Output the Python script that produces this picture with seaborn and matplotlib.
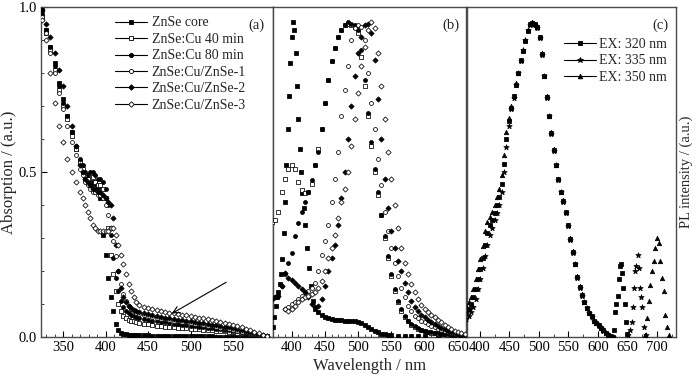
import numpy as np
import pandas as pd
import matplotlib
matplotlib.use("Agg")
import matplotlib.pyplot as plt
from matplotlib.lines import Line2D
from matplotlib.ticker import MultipleLocator
import seaborn as sns

# ---------------------------------------------------------------------------
# (a) absorption spectra
# ---------------------------------------------------------------------------
WL_A = np.concatenate([np.arange(325, 371, 5), np.arange(373, 440, 3), np.arange(445, 591, 5)])

ABS_CORE = [0.99, 0.93, 0.88, 0.83, 0.77, 0.72, 0.67, 0.62, 0.57, 0.53,
            0.50, 0.48, 0.47, 0.46, 0.47, 0.465, 0.455, 0.42, 0.31, 0.25, 0.18, 0.12, 0.08,
            0.04, 0.02, 0.012, 0.009, 0.008, 0.007, 0.006, 0.006, 0.005, 0.005,
            0.005, 0.005, 0.004, 0.004, 0.004, 0.004, 0.003, 0.003, 0.003, 0.003,
            0.003, 0.002, 0.002, 0.002, 0.002, 0.002, 0.002, 0.001, 0.001, 0.001,
            0.001, 0.001, 0.001, 0.001, 0.0, 0.0, 0.0, 0.0, 0.0, 0.0]
ABS_CU40 = [0.97, 0.92, 0.87, 0.81, 0.75, 0.70, 0.66, 0.61, 0.57, 0.53,
            0.51, 0.49, 0.48, 0.49, 0.485, 0.47, 0.46, 0.46, 0.45, 0.42, 0.33, 0.25, 0.19,
            0.14, 0.10, 0.08, 0.065, 0.058, 0.053, 0.05, 0.047, 0.045, 0.043,
            0.04, 0.038, 0.036, 0.034, 0.032, 0.031, 0.03, 0.029, 0.028, 0.027,
            0.026, 0.025, 0.024, 0.023, 0.022, 0.021, 0.02, 0.019, 0.018, 0.017,
            0.016, 0.015, 0.013, 0.012, 0.011, 0.01, 0.008, 0.006, 0.004, 0.002]
ABS_CU80 = [0.98, 0.93, 0.88, 0.82, 0.76, 0.71, 0.67, 0.62, 0.58, 0.54,
            0.52, 0.50, 0.49, 0.50, 0.50, 0.49, 0.48, 0.48, 0.47, 0.45, 0.40, 0.31, 0.24,
            0.18, 0.14, 0.11, 0.09, 0.08, 0.072, 0.067, 0.063, 0.06, 0.058,
            0.055, 0.052, 0.05, 0.048, 0.046, 0.044, 0.042, 0.04, 0.039, 0.037,
            0.036, 0.034, 0.033, 0.031, 0.03, 0.028, 0.027, 0.025, 0.024, 0.022,
            0.021, 0.019, 0.017, 0.015, 0.013, 0.011, 0.009, 0.007, 0.004, 0.002]
ABS_SHELL1 = [0.97, 0.92, 0.86, 0.80, 0.74, 0.69, 0.64, 0.59, 0.55, 0.51,
              0.49, 0.47, 0.46, 0.45, 0.44, 0.44, 0.43, 0.43, 0.42, 0.40, 0.37, 0.33, 0.29,
              0.245, 0.20, 0.16, 0.13, 0.11, 0.095, 0.085, 0.078, 0.073, 0.07,
              0.066, 0.063, 0.061, 0.058, 0.056, 0.054, 0.052, 0.05, 0.048, 0.046,
              0.044, 0.042, 0.04, 0.038, 0.036, 0.034, 0.032, 0.03, 0.028, 0.026,
              0.024, 0.021, 0.019, 0.016, 0.014, 0.011, 0.008, 0.006, 0.003, 0.001]
ABS_SHELL2 = [0.99, 0.95, 0.91, 0.86, 0.81, 0.76, 0.70, 0.64, 0.58, 0.52,
              0.50, 0.48, 0.47, 0.46, 0.45, 0.45, 0.44, 0.44, 0.43, 0.42, 0.41, 0.40, 0.36,
              0.28, 0.20, 0.15, 0.12, 0.105, 0.095, 0.088, 0.083, 0.08, 0.077,
              0.074, 0.07, 0.067, 0.064, 0.062, 0.059, 0.057, 0.055, 0.053, 0.051,
              0.049, 0.047, 0.045, 0.043, 0.041, 0.039, 0.037, 0.035, 0.033, 0.031,
              0.029, 0.026, 0.023, 0.02, 0.017, 0.014, 0.011, 0.008, 0.005, 0.002]
ABS_SHELL3 = [0.96, 0.90, 0.80, 0.71, 0.64, 0.59, 0.54, 0.50, 0.47, 0.44,
              0.42, 0.40, 0.38, 0.36, 0.34, 0.33, 0.32, 0.32, 0.32, 0.32, 0.32, 0.33, 0.33,
              0.31, 0.28, 0.25, 0.22, 0.19, 0.16, 0.14, 0.12, 0.107, 0.098,
              0.092, 0.088, 0.085, 0.082, 0.079, 0.076, 0.074, 0.072, 0.07, 0.068,
              0.066, 0.064, 0.061, 0.059, 0.057, 0.054, 0.051, 0.048, 0.045, 0.042,
              0.039, 0.036, 0.033, 0.029, 0.025, 0.02, 0.015, 0.011, 0.006, 0.003]

# ---------------------------------------------------------------------------
# (b) emission spectra
# ---------------------------------------------------------------------------
WL_B = np.arange(370, 661, 5)
WL_B_CORE = [372, 374, 376, 378, 380, 382, 384, 386, 388, 390, 392, 394, 396, 398, 400,
             402, 404, 406, 408, 410, 412, 414, 416, 418, 420, 423, 426, 429, 432, 435,
             440, 445, 450, 455, 460, 465, 470, 475, 480, 485, 490, 495, 500, 505, 510,
             515, 520, 525, 530, 535, 540, 545, 550, 560, 570, 580, 590, 600, 620, 640, 660]
PL_CORE = [0.03, 0.06, 0.095, 0.12, 0.135, 0.16, 0.19, 0.235, 0.315, 0.41, 0.52, 0.63, 0.73, 0.83, 0.91,
           0.955, 0.93, 0.86, 0.76, 0.66, 0.57, 0.50, 0.435, 0.39, 0.34, 0.27, 0.21, 0.155, 0.11, 0.085,
           0.075, 0.068, 0.062, 0.058, 0.055, 0.053, 0.052, 0.051, 0.05, 0.05, 0.049, 0.048, 0.046, 0.043, 0.037,
           0.031, 0.025, 0.019, 0.014, 0.01, 0.008, 0.006, 0.005, 0.004, 0.003, 0.003, 0.002, 0.002, 0.001, 0.001, 0.0]
PL_CU40 = [0.35, 0.355, 0.38, 0.44, 0.48, 0.51, 0.52, 0.51, 0.47, 0.445, 0.435, 0.44, 0.465, 0.52, 0.57,
           0.63, 0.71, 0.78, 0.835, 0.875, 0.91, 0.93, 0.945, 0.95, 0.945, 0.94, 0.92, 0.85, 0.76, 0.67,
           0.58, 0.50, 0.43, 0.37, 0.30, 0.24, 0.185, 0.14, 0.105, 0.08, 0.06, 0.047, 0.037, 0.03, 0.024,
           0.02, 0.017, 0.015, 0.013, 0.011, 0.01, 0.009, 0.008, 0.007, 0.006, 0.005, 0.004, 0.003, 0.002]
PL_CU80 = [0.115, 0.12, 0.125, 0.155, 0.19, 0.225, 0.255, 0.305, 0.345, 0.38, 0.41, 0.44, 0.475, 0.52, 0.56,
           0.63, 0.71, 0.78, 0.835, 0.875, 0.91, 0.93, 0.945, 0.955, 0.95, 0.945, 0.93, 0.87, 0.78, 0.68,
           0.59, 0.51, 0.44, 0.37, 0.305, 0.245, 0.19, 0.145, 0.11, 0.085, 0.065, 0.05, 0.04, 0.032, 0.026,
           0.021, 0.018, 0.016, 0.014, 0.012, 0.011, 0.01, 0.009, 0.008, 0.007, 0.006, 0.005, 0.004, 0.003]
PL_SHELL1 = [np.nan, np.nan, np.nan, np.nan, 0.085, 0.09, 0.10, 0.105, 0.115, 0.125, 0.135, 0.14, 0.15, 0.165, 0.20,
             0.25, 0.29, 0.34, 0.41, 0.48, 0.56, 0.67, 0.75, 0.82, 0.90, 0.935, 0.945, 0.94, 0.90, 0.80,
             0.71, 0.63, 0.54, 0.46, 0.38, 0.32, 0.27, 0.225, 0.185, 0.15, 0.12, 0.095, 0.078, 0.065, 0.057,
             0.05, 0.044, 0.039, 0.034, 0.029, 0.025, 0.021, 0.018, 0.015, 0.012, 0.01, 0.008, 0.006, 0.005]
PL_SHELL2 = [0.115, 0.12, 0.125, 0.155, 0.195, 0.18, 0.172, 0.165, 0.155, 0.145, 0.135, 0.12, 0.10, 0.09, 0.095,
             0.115, 0.155, 0.20, 0.24, 0.28, 0.34, 0.42, 0.50, 0.60, 0.70, 0.79, 0.86, 0.91, 0.945, 0.95,
             0.92, 0.84, 0.72, 0.60, 0.48, 0.39, 0.32, 0.27, 0.23, 0.20, 0.165, 0.135, 0.11, 0.09, 0.078,
             0.068, 0.06, 0.052, 0.045, 0.039, 0.033, 0.028, 0.023, 0.019, 0.015, 0.012, 0.009, 0.007, 0.005]
PL_SHELL3 = [np.nan, np.nan, np.nan, np.nan, 0.085, 0.08, 0.085, 0.095, 0.105, 0.115, 0.12, 0.125, 0.13, 0.135, 0.15,
             0.17, 0.20, 0.24, 0.27, 0.31, 0.36, 0.41, 0.45, 0.50, 0.58, 0.66, 0.74, 0.82, 0.88, 0.93,
             0.955, 0.935, 0.86, 0.76, 0.66, 0.56, 0.48, 0.40, 0.33, 0.27, 0.225, 0.19, 0.16, 0.135, 0.115,
             0.097, 0.085, 0.075, 0.067, 0.06, 0.052, 0.044, 0.037, 0.03, 0.024, 0.019, 0.015, 0.011, 0.008]

# ---------------------------------------------------------------------------
# (c) emission at three excitation wavelengths
# ---------------------------------------------------------------------------
WL_C = np.arange(377, 626, 4)
EX320 = [0.075, 0.085, 0.10, 0.12, 0.145, 0.175, 0.205, 0.24, 0.28, 0.315, 0.34, 0.355, 0.375, 0.40, 0.425,
         0.465, 0.525, 0.60, 0.655, 0.695, 0.73, 0.765, 0.80, 0.838, 0.868, 0.898, 0.928, 0.948, 0.952, 0.948,
         0.938, 0.908, 0.858, 0.79, 0.728, 0.67, 0.618, 0.568, 0.52, 0.478, 0.44, 0.412, 0.378, 0.338, 0.298,
         0.258, 0.22, 0.183, 0.152, 0.128, 0.105, 0.088, 0.074, 0.063, 0.05, 0.042, 0.035, 0.027, 0.02, 0.012,
         0.007, 0.003, 0.001]
EX335 = [0.055, 0.065, 0.075, 0.09, 0.115, 0.145, 0.175, 0.21, 0.245, 0.28, 0.31, 0.33, 0.355, 0.375, 0.40,
         0.44, 0.50, 0.575, 0.64, 0.69, 0.725, 0.765, 0.80, 0.835, 0.87, 0.90, 0.93, 0.945, 0.95, 0.945,
         0.935, 0.905, 0.855, 0.79, 0.725, 0.67, 0.615, 0.565, 0.52, 0.475, 0.44, 0.41, 0.375, 0.335, 0.295,
         0.255, 0.22, 0.18, 0.15, 0.125, 0.105, 0.088, 0.074, 0.062, 0.05, 0.042, 0.034, 0.026, 0.019, 0.012,
         0.007, 0.003, 0.001]
EX350 = [0.095, 0.105, 0.12, 0.145, 0.175, 0.205, 0.235, 0.275, 0.32, 0.35, 0.365, 0.38, 0.40, 0.425, 0.45,
         0.49, 0.55, 0.62, 0.665, 0.70, 0.73, 0.77, 0.80, 0.84, 0.87, 0.90, 0.93, 0.95, 0.955, 0.95,
         0.94, 0.91, 0.86, 0.79, 0.73, 0.67, 0.62, 0.57, 0.52, 0.48, 0.44, 0.415, 0.38, 0.34, 0.30,
         0.26, 0.22, 0.185, 0.155, 0.13, 0.105, 0.088, 0.075, 0.065, 0.05, 0.043, 0.036, 0.028, 0.02, 0.013,
         0.007, 0.003, 0.001]
# second-order peaks
EX320_2ND_WL = [627, 629, 631, 633, 635, 637, 639, 641, 643, 645, 647, 649]
EX320_2ND = [0.02, 0.075, 0.10, 0.125, 0.175, 0.215, 0.22, 0.195, 0.15, 0.10, 0.045, 0.01]
EX335_2ND_WL = [650, 654, 657, 659, 661, 663, 665, 667, 669, 671, 673, 675, 678, 681]
EX335_2ND = [0.005, 0.02, 0.045, 0.09, 0.15, 0.20, 0.215, 0.25, 0.21, 0.15, 0.12, 0.09, 0.03, 0.005]
EX350_2ND_WL = [680, 683, 686, 688, 691, 694, 697, 700, 703, 705, 708, 711, 714, 717, 720]
EX350_2ND = [0.005, 0.057, 0.11, 0.158, 0.20, 0.23, 0.27, 0.30, 0.285, 0.23, 0.18, 0.14, 0.067, 0.03, 0.005]

SAMPLE_LABELS = ["ZnSe core", "ZnSe:Cu 40 min", "ZnSe:Cu 80 min",
                 "ZnSe:Cu/ZnSe-1", "ZnSe:Cu/ZnSe-2", "ZnSe:Cu/ZnSe-3"]
EX_LABELS = ["EX: 320 nm", "EX: 335 nm", "EX: 350 nm"]

# marker, filled, size (points^2) for each sample
SAMPLE_STYLE = [("s", True, 7), ("s", False, 7), ("o", True, 8),
                ("o", False, 8), ("D", True, 7), ("D", False, 7)]
EX_STYLE = [("s", True, 7), ("*", True, 16), ("^", True, 10)]

FRAME = "#4a4a4a"


def dots(ax, x, y, marker, filled, size):
    df = pd.DataFrame({"x": np.asarray(x, float), "y": np.asarray(y, float)}).dropna()
    sns.scatterplot(data=df, x="x", y="y", ax=ax, marker=marker, s=size,
                    color="black", facecolor="black" if filled else "white",
                    edgecolor="black", linewidth=0.55, legend=False, zorder=3)


def legend_handles(styles, labels):
    handles = []
    for (m, filled, s), lab in zip(styles, labels):
        handles.append(Line2D([], [], color="black", lw=0.8, marker=m,
                              markersize=np.sqrt(s) * 1.05,
                              markerfacecolor="black" if filled else "white",
                              markeredgecolor="black", markeredgewidth=0.6, label=lab))
    return handles


def main():
    sns.set_theme(style="ticks")
    plt.rcParams["font.family"] = ["Liberation Serif", "DejaVu Serif"]
    plt.rcParams["font.size"] = 10.5

    W, H = 700, 377
    fig = plt.figure(figsize=(W / 100, H / 100), dpi=100)
    bottom, height = (H - 337) / H, 330 / H
    ax_a = fig.add_axes([41 / W, bottom, (273 - 41) / W, height])
    ax_b = fig.add_axes([273 / W, bottom, (466.5 - 273) / W, height])
    ax_c = fig.add_axes([466.5 / W, bottom, (675.5 - 466.5) / W, height])

    # (a)
    for vals, st in zip([ABS_CORE, ABS_CU40, ABS_CU80, ABS_SHELL1, ABS_SHELL2, ABS_SHELL3], SAMPLE_STYLE):
        dots(ax_a, WL_A, vals, *st)
    ax_a.annotate("", xy=(478, 0.071), xytext=(542, 0.166),
                  arrowprops=dict(arrowstyle="->", lw=0.8, color="black",
                                  shrinkA=0, shrinkB=0, mutation_scale=12))
    ax_a.legend(handles=legend_handles(SAMPLE_STYLE, SAMPLE_LABELS), loc="upper left",
                bbox_to_anchor=(0.27, 1.005), frameon=False, fontsize=10,
                handlelength=2.3, handletextpad=0.35, labelspacing=0.25, borderpad=0.3)
    ax_a.set_xlim(324, 597)
    ax_a.xaxis.set_major_locator(MultipleLocator(50))
    ax_a.xaxis.set_minor_locator(MultipleLocator(10))
    ax_a.set_ylabel("Absorption / (a.u.)", labelpad=1)
    ax_a.set_yticks([0.0, 0.5, 1.0])
    ax_a.set_yticklabels(["0.0", "0.5", "1.0"])
    ax_a.yaxis.set_minor_locator(MultipleLocator(0.1))

    # (b)
    dots(ax_b, WL_B_CORE, PL_CORE, *SAMPLE_STYLE[0])
    for vals, st in zip([PL_CU40, PL_CU80, PL_SHELL1, PL_SHELL2, PL_SHELL3], SAMPLE_STYLE[1:]):
        dots(ax_b, WL_B, vals, *st)
    ax_b.set_xlim(372, 663)
    ax_b.xaxis.set_major_locator(MultipleLocator(50))
    ax_b.xaxis.set_minor_locator(MultipleLocator(10))

    # (c)
    for main_vals, wl2, vals2, st in zip([EX320, EX335, EX350],
                                         [EX320_2ND_WL, EX335_2ND_WL, EX350_2ND_WL],
                                         [EX320_2ND, EX335_2ND, EX350_2ND], EX_STYLE):
        dots(ax_c, np.concatenate([WL_C, wl2]), list(main_vals) + list(vals2), *st)
    ax_c.legend(handles=legend_handles(EX_STYLE, EX_LABELS), loc="upper left",
                bbox_to_anchor=(0.415, 0.94), frameon=False, fontsize=10,
                handlelength=2.3, handletextpad=0.2, labelspacing=0.25, borderpad=0.3)
    ax_c.set_xlim(377.5, 731)
    ax_c.xaxis.set_major_locator(MultipleLocator(50))
    ax_c.xaxis.set_minor_locator(MultipleLocator(25))

    for ax, letter in zip([ax_a, ax_b, ax_c], ["(a)", "(b)", "(c)"]):
        ax.set_ylim(0, 1.0)
        ax.set_xlabel("")
        if ax is not ax_a:
            ax.set_ylabel("")
            ax.tick_params(axis="y", which="both", left=False, right=False, labelleft=False)
        ax.text(0.965, 0.965, letter, transform=ax.transAxes, ha="right", va="top", fontsize=10.5)
        ax.tick_params(axis="both", which="major", direction="in", length=4, width=0.8,
                       labelsize=10.5, pad=3, colors="black")
        ax.tick_params(axis="both", which="minor", direction="in", length=2, width=0.6)
        for sp in ax.spines.values():
            sp.set_visible(True)
            sp.set_color(FRAME)
            sp.set_linewidth(1.0)

    ax_b.set_xlabel("Wavelength / nm", labelpad=3)
    ax_c.yaxis.set_label_position("right")
    ax_c.set_ylabel("PL intensity / (a.u.)", labelpad=3, fontsize=10.5)

    fig.savefig("out.png", dpi=100)
    plt.close(fig)


if __name__ == "__main__":
    main()
